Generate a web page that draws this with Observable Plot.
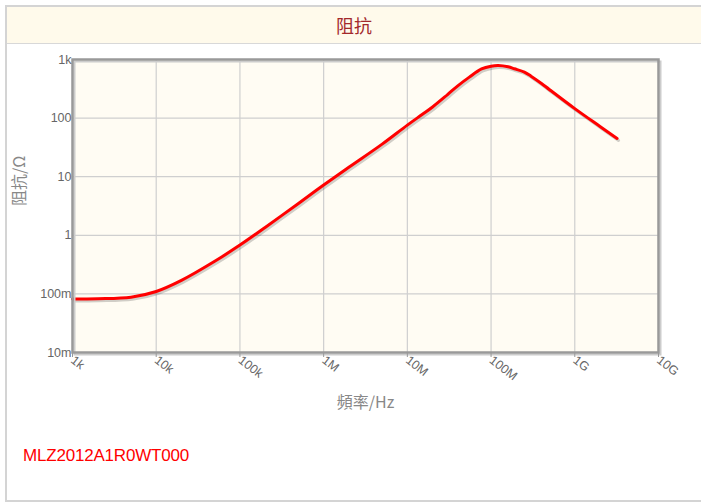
<!DOCTYPE html>
<html>
<head>
<meta charset="utf-8">
<script src="https://cdn.jsdelivr.net/npm/d3@7"></script>
<script src="https://cdn.jsdelivr.net/npm/@observablehq/plot@0.6"></script>
<style>
  html, body { margin: 0; padding: 0; background: #fff; width: 701px; height: 502px; overflow: hidden; }
  #box { position: absolute; left: 5px; top: 5px; width: 710px; height: 493px; border: 2px solid #d4d4d4; border-right: none; background: #fff; }
  #hdr { position: absolute; left: 0; top: 0; width: 100%; height: 36px; background: #fffaeb; border-bottom: 1px solid #d8d8d8; }
  #title { position: absolute; left: 0; top: 0; width: 694px; text-align: center; line-height: 36px; font-family: "Noto Sans CJK SC", sans-serif; font-size: 18px; color: #a3282b; }
  #chart { position: absolute; left: 0px; top: 37px; }
  #part { position: absolute; left: 16px; top: 439px; font-family: "Liberation Sans", Arial, sans-serif; font-size: 17px; color: #ff0000; letter-spacing: -0.2px; }
</style>
</head>
<body>
<div id="box">
  <div id="hdr"><div id="title">阻抗</div></div>
  <div id="chart"></div>
  <div id="part">MLZ2012A1R0WT000</div>
</div>
<script>
// Data (frequency in Hz, impedance in Ohm)
const freq = [1e3, 2e3, 5e3, 1e4, 2e4, 5e4, 1e5, 2e5, 5e5, 1e6, 2e6, 5e6, 1e7, 1.5e7, 2e7, 3e7, 4e7, 5.5e7, 7.7e7, 1e8, 1.22e8, 1.6e8, 1.9e8, 2.5e8, 3e8, 4e8, 5e8, 1e9, 2e9, 3.2e9];
const impedance = [0.082, 0.083, 0.088, 0.11, 0.17, 0.36, 0.68, 1.36, 3.5, 7.2, 14.5, 36, 76, 115, 155, 250, 355, 500, 690, 770, 790, 750, 695, 610, 520, 390, 305, 145, 72, 45];

const xTicks = [1e3, 1e4, 1e5, 1e6, 1e7, 1e8, 1e9, 1e10];
const xLabels = ["1k", "10k", "100k", "1M", "10M", "100M", "1G", "10G"];
const yTicks = [0.01, 0.1, 1, 10, 100, 1000];
const yLabels = ["10m", "100m", "1", "10", "100", "1k"];

const data = freq.map((f, i) => ({f, z: impedance[i]}));
const xl = new Map(xTicks.map((t, i) => [t, xLabels[i]]));
const yl = new Map(yTicks.map((t, i) => [t, yLabels[i]]));

const chart = Plot.plot({
  width: 690,
  height: 385,
  marginLeft: 65,
  marginRight: 39,
  marginTop: 15,
  marginBottom: 77,
  style: {fontFamily: "'Liberation Sans', Arial, sans-serif", fontSize: "12px", color: "#555", background: "transparent"},
  x: {type: "log", domain: [1e3, 1e10]},
  y: {type: "log", domain: [0.01, 1000]},
  marks: [
    Plot.frame({fill: "#fffcf3", stroke: null}),
    Plot.gridX(xTicks, {stroke: "#cfcfcf", strokeOpacity: 1, strokeWidth: 1.2}),
    Plot.gridY(yTicks, {stroke: "#cfcfcf", strokeOpacity: 1, strokeWidth: 1.2}),
    Plot.line(data, {x: "f", y: "z", stroke: "#000", strokeOpacity: 0.18, strokeWidth: 3, dx: 1.5, dy: 2, curve: "catmull-rom"}),
    Plot.line(data, {x: "f", y: "z", stroke: "#ff0000", strokeWidth: 3, curve: "catmull-rom"}),
    Plot.frame({stroke: "#cccccc", strokeWidth: 2, dx: 2, dy: 2}),
    Plot.frame({stroke: "#999999", strokeWidth: 2.5}),
    Plot.axisX(xTicks, {tickFormat: d => xl.get(d), tickSize: 5, stroke: "#999", tickPadding: 1, tickRotate: 38, fill: "#666", fontSize: 12.5, label: null}),
    Plot.axisY(yTicks, {tickFormat: d => yl.get(d), tickSize: 0, tickPadding: 1, fill: "#666", fontSize: 12.5, label: null}),
    Plot.text(["頻率/Hz"], {frameAnchor: "bottom", dy: 55, fontSize: 16, fill: "#888", fontFamily: "'Noto Sans CJK SC', sans-serif"}),
    Plot.text(["阻抗/Ω"], {frameAnchor: "left", dx: -53, rotate: -90, fontSize: 16, fill: "#888", fontFamily: "'Noto Sans CJK SC', sans-serif"})
  ]
});
document.getElementById("chart").appendChild(chart);
</script>
</body>
</html>
